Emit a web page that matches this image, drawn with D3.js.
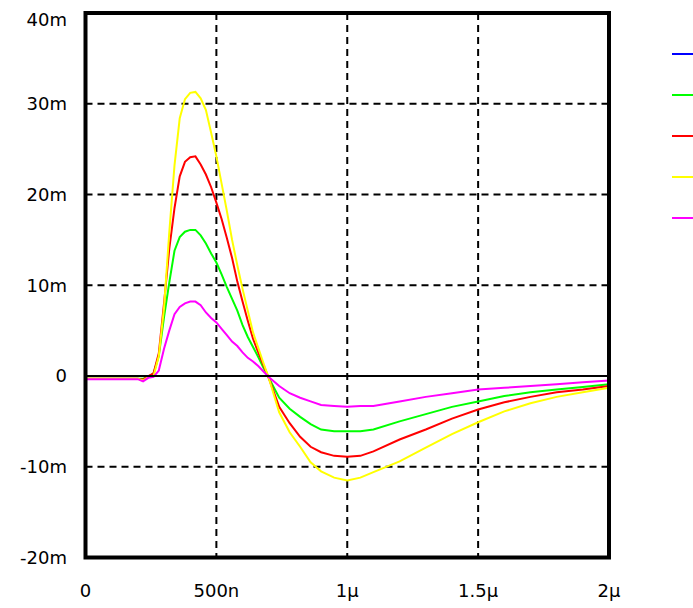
<!DOCTYPE html>
<html>
<head>
<meta charset="utf-8">
<script src="https://cdn.jsdelivr.net/npm/d3@7"></script>
<style>
  body { margin: 0; background: #fff; }
  text { font-family: "DejaVu Sans", sans-serif; font-size: 18px; fill: #000; }
</style>
</head>
<body>
<svg id="chart" width="693" height="608"></svg>
<script>
// time in ns, values in mV (m)
var t = [0, 200, 220, 240, 260, 280, 300, 320, 340, 360, 380, 400, 420, 440, 460, 480, 500,
  520, 540, 560, 580, 600, 620, 640, 660, 680, 700, 740, 780, 820, 860, 900, 950, 1000,
  1050, 1100, 1200, 1300, 1400, 1500, 1600, 1700, 1800, 1900, 2000];

var blueV = t.map(function() { return 0; });
var greenV = [-0.3, -0.3, -0.3, -0.1, 0.3, 2.2, 6.5, 10.3, 13.8, 15.3, 15.9, 16.1, 16.1, 15.5, 14.6, 13.5, 12.5,
  11.2, 9.8, 8.5, 7.2, 5.6, 4.3, 3.2, 2.1, 0.9, -0.2, -2.4, -3.6, -4.5, -5.3, -5.9, -6.1, -6.1,
  -6.1, -5.9, -5.0, -4.2, -3.4, -2.8, -2.2, -1.8, -1.5, -1.2, -0.9];
var redV = [-0.3, -0.3, -0.4, 0, 0.3, 2.5, 8.0, 14.0, 18.5, 22.0, 23.6, 24.1, 24.2, 23.3, 22.2, 20.8, 19.1,
  17.3, 15.2, 13.0, 10.4, 8.2, 6.1, 4.1, 2.6, 1.2, -0.2, -3.4, -5.2, -6.7, -7.8, -8.4, -8.8, -8.9,
  -8.8, -8.3, -7.0, -5.9, -4.7, -3.7, -2.9, -2.3, -1.8, -1.5, -1.1];
var yellowV = [-0.3, -0.3, -0.5, -0.1, 0.0, 2.2, 7.5, 15.8, 23.2, 28.4, 30.5, 31.2, 31.3, 30.6, 29.3, 26.8, 24.2,
  21.2, 18.2, 15.0, 12.2, 9.6, 7.2, 4.8, 3.1, 1.4, -0.2, -4.0, -6.2, -7.8, -9.5, -10.5, -11.2, -11.5,
  -11.2, -10.6, -9.4, -7.9, -6.4, -5.1, -3.9, -3.0, -2.3, -1.8, -1.3];
var magentaV = [-0.35, -0.35, -0.6, -0.2, -0.1, 0.6, 3.0, 5.0, 6.8, 7.6, 8.0, 8.2, 8.2, 7.8, 7.0, 6.4, 5.9,
  5.2, 4.5, 3.8, 3.3, 2.6, 2.0, 1.6, 1.1, 0.5, -0.1, -1.1, -1.9, -2.4, -2.8, -3.2, -3.3, -3.4,
  -3.3, -3.3, -2.8, -2.3, -1.9, -1.5, -1.3, -1.1, -0.9, -0.7, -0.5];

var seriesNames = ["blue", "green", "red", "yellow", "magenta"];
var seriesColors = ["#0000ff", "#00ff00", "#ff0000", "#ffff00", "#ff00ff"];
var seriesValues = [blueV, greenV, redV, yellowV, magentaV];

var xTicks = [0, 500, 1000, 1500, 2000];
var xTickLabels = ["0", "500n", "1\u03bc", "1.5\u03bc", "2\u03bc"];
var yTicks = [40, 30, 20, 10, 0, -10, -20];
var yTickLabels = ["40m", "30m", "20m", "10m", "0", "-10m", "-20m"];

var svg = d3.select("#chart");

var x = d3.scaleLinear().domain([0, 2000]).range([85.5, 609]);
var y = d3.scaleLinear().domain([-20, 40]).range([557.5, 13]);

// grid
svg.append("g").selectAll("line")
  .data(xTicks.slice(1, -1))
  .enter().append("line")
  .attr("x1", function(d) { return x(d); })
  .attr("x2", function(d) { return x(d); })
  .attr("y1", y(40)).attr("y2", y(-20))
  .attr("stroke", "#000").attr("stroke-width", 2)
  .attr("stroke-dasharray", "7,5");

svg.append("g").selectAll("line")
  .data(yTicks.filter(function(d) { return d != 0 && d != 40 && d != -20; }))
  .enter().append("line")
  .attr("x1", x(0)).attr("x2", x(2000))
  .attr("y1", function(d) { return y(d); })
  .attr("y2", function(d) { return y(d); })
  .attr("stroke", "#000").attr("stroke-width", 2)
  .attr("stroke-dasharray", "7,5");

// traces
var line = d3.line()
  .x(function(d, i) { return x(t[i]); })
  .y(function(d) { return y(d); });

svg.append("g").selectAll("path")
  .data(seriesValues)
  .enter().append("path")
  .attr("d", line)
  .attr("fill", "none")
  .attr("stroke", function(d, i) { return seriesColors[i]; })
  .attr("stroke-width", 2);

// zero line
svg.append("line")
  .attr("x1", x(0)).attr("x2", x(2000))
  .attr("y1", y(0)).attr("y2", y(0))
  .attr("stroke", "#000").attr("stroke-width", 2);

// frame
svg.append("rect")
  .attr("x", x(0)).attr("y", y(40))
  .attr("width", x(2000) - x(0)).attr("height", y(-20) - y(40))
  .attr("fill", "none").attr("stroke", "#000").attr("stroke-width", 4);

// y labels
svg.append("g").selectAll("text")
  .data(yTicks)
  .enter().append("text")
  .attr("x", 67)
  .attr("y", function(d) { return Math.max(y(d), 20); })
  .attr("dy", "0.36em")
  .attr("text-anchor", "end")
  .text(function(d, i) { return yTickLabels[i]; });

// x labels
svg.append("g").selectAll("text")
  .data(xTicks)
  .enter().append("text")
  .attr("x", function(d) { return x(d); })
  .attr("y", 591)
  .attr("dy", "0.36em")
  .attr("text-anchor", "middle")
  .text(function(d, i) { return xTickLabels[i]; });

// legend (colour swatches only)
svg.append("g").selectAll("line")
  .data(seriesNames)
  .enter().append("line")
  .attr("x1", 672).attr("x2", 693)
  .attr("y1", function(d, i) { return 54 + i * 41; })
  .attr("y2", function(d, i) { return 54 + i * 41; })
  .attr("stroke", function(d, i) { return seriesColors[i]; })
  .attr("stroke-width", 2);
</script>
</body>
</html>
